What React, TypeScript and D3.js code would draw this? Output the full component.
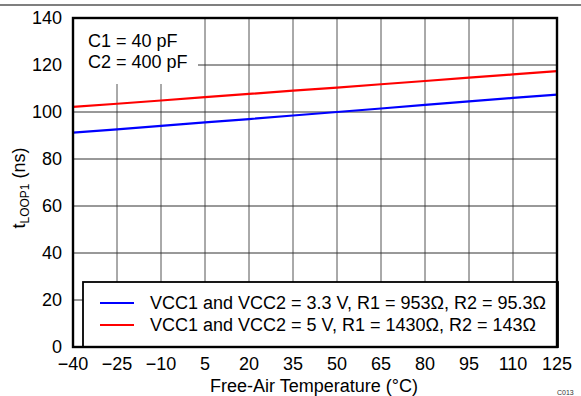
import React from "react";
import * as d3 from "d3";

const temps = [-40, -25, -10, 5, 20, 35, 50, 65, 80, 95, 110, 125];
const blue33V = [91.2, 92.6, 94.1, 95.6, 97.0, 98.5, 100.0, 101.5, 103.0, 104.5, 106.0, 107.4];
const red5V = [102.2, 103.5, 104.9, 106.3, 107.7, 109.1, 110.4, 111.8, 113.2, 114.6, 116.0, 117.4];
const yTicks = [0, 20, 40, 60, 80, 100, 120, 140];
const xTicks = [-40, -25, -10, 5, 20, 35, 50, 65, 80, 95, 110, 125];
const seriesLabels = [
  "VCC1 and VCC2 = 3.3 V, R1 = 953Ω, R2 = 95.3Ω",
  "VCC1 and VCC2 = 5 V, R1 = 1430Ω, R2 = 143Ω",
];
const seriesColors = ["#0000ff", "#ff0000"];
const annotations = ["C1 = 40 pF", "C2 = 400 pF"];

export default function App() {
  const W = 581, H = 396;
  const L = 73, R = 557, T = 18, B = 347;
  const x = d3.scaleLinear().domain([-40, 125]).range([L, R]);
  const y = d3.scaleLinear().domain([0, 140]).range([B, T]);
  const line = d3.line<[number, number]>().x(d => x(d[0])).y(d => y(d[1]));
  const series = [blue33V, red5V];
  const font = "'Liberation Sans', Arial, sans-serif";
  const legend = { x0: 83, y0: 282, x1: 558, y1: 347 };
  const annot = { x0: L, y0: T, x1: 198, y1: 84 };
  const fs = 18;
  return (
    <svg width={W} height={H} style={{ position: "absolute", left: 0, top: 0 }} fontFamily={font}>
      <rect x={0} y={0} width={W} height={H} fill="#fff" />
      <line x1={0} x2={W} y1={5} y2={5} stroke="#000" strokeWidth={1.2} />
      {/* grid */}
      {xTicks.map(t => (
        <line key={"gx" + t} x1={x(t)} x2={x(t)} y1={T} y2={B} stroke="#555" strokeWidth={1} />
      ))}
      {yTicks.map(t => (
        <line key={"gy" + t} x1={L} x2={R} y1={y(t)} y2={y(t)} stroke="#333" strokeWidth={1} />
      ))}
      {/* annotation background */}
      <rect x={annot.x0} y={annot.y0} width={annot.x1 - annot.x0} height={annot.y1 - annot.y0} fill="#fff" />
      {annotations.map((a, i) => (
        <text key={a} x={88} y={47 + i * 21} fontSize={fs}>{a}</text>
      ))}
      {/* series */}
      {series.map((s, i) => (
        <path key={i} d={line(temps.map((t, j) => [t, s[j]]) as [number, number][]) || ""}
          fill="none" stroke={seriesColors[i]} strokeWidth={2.2} />
      ))}
      {/* legend */}
      <rect x={legend.x0} y={legend.y0} width={legend.x1 - legend.x0} height={legend.y1 - legend.y0}
        fill="#fff" stroke="#000" strokeWidth={1.8} />
      {seriesLabels.map((lab, i) => (
        <g key={lab}>
          <line x1={100} x2={134} y1={303 + i * 22} y2={303 + i * 22} stroke={seriesColors[i]} strokeWidth={2.2} />
          <text x={150} y={309 + i * 22} fontSize={fs}>{lab}</text>
        </g>
      ))}
      {/* frame */}
      <rect x={L} y={T} width={R - L} height={B - T} fill="none" stroke="#000" strokeWidth={2.4} />
      {/* tick labels */}
      {yTicks.map(t => (
        <text key={"ty" + t} x={62} y={y(t) + 6} fontSize={fs} textAnchor="end">{t}</text>
      ))}
      {xTicks.map(t => (
        <text key={"tx" + t} x={x(t)} y={370} fontSize={fs} textAnchor="middle">{t < 0 ? "−" + Math.abs(t) : t}</text>
      ))}
      <text x={314} y={392} fontSize={fs} textAnchor="middle">Free-Air Temperature (°C)</text>
      <text transform="translate(25,188) rotate(-90)" fontSize={fs} textAnchor="middle">
        t<tspan fontSize={12} dy={4}>LOOP1</tspan><tspan dy={-4}> (ns)</tspan>
      </text>
      <text x={557} y={395} fontSize={7} fill="#333">C013</text>
    </svg>
  );
}
